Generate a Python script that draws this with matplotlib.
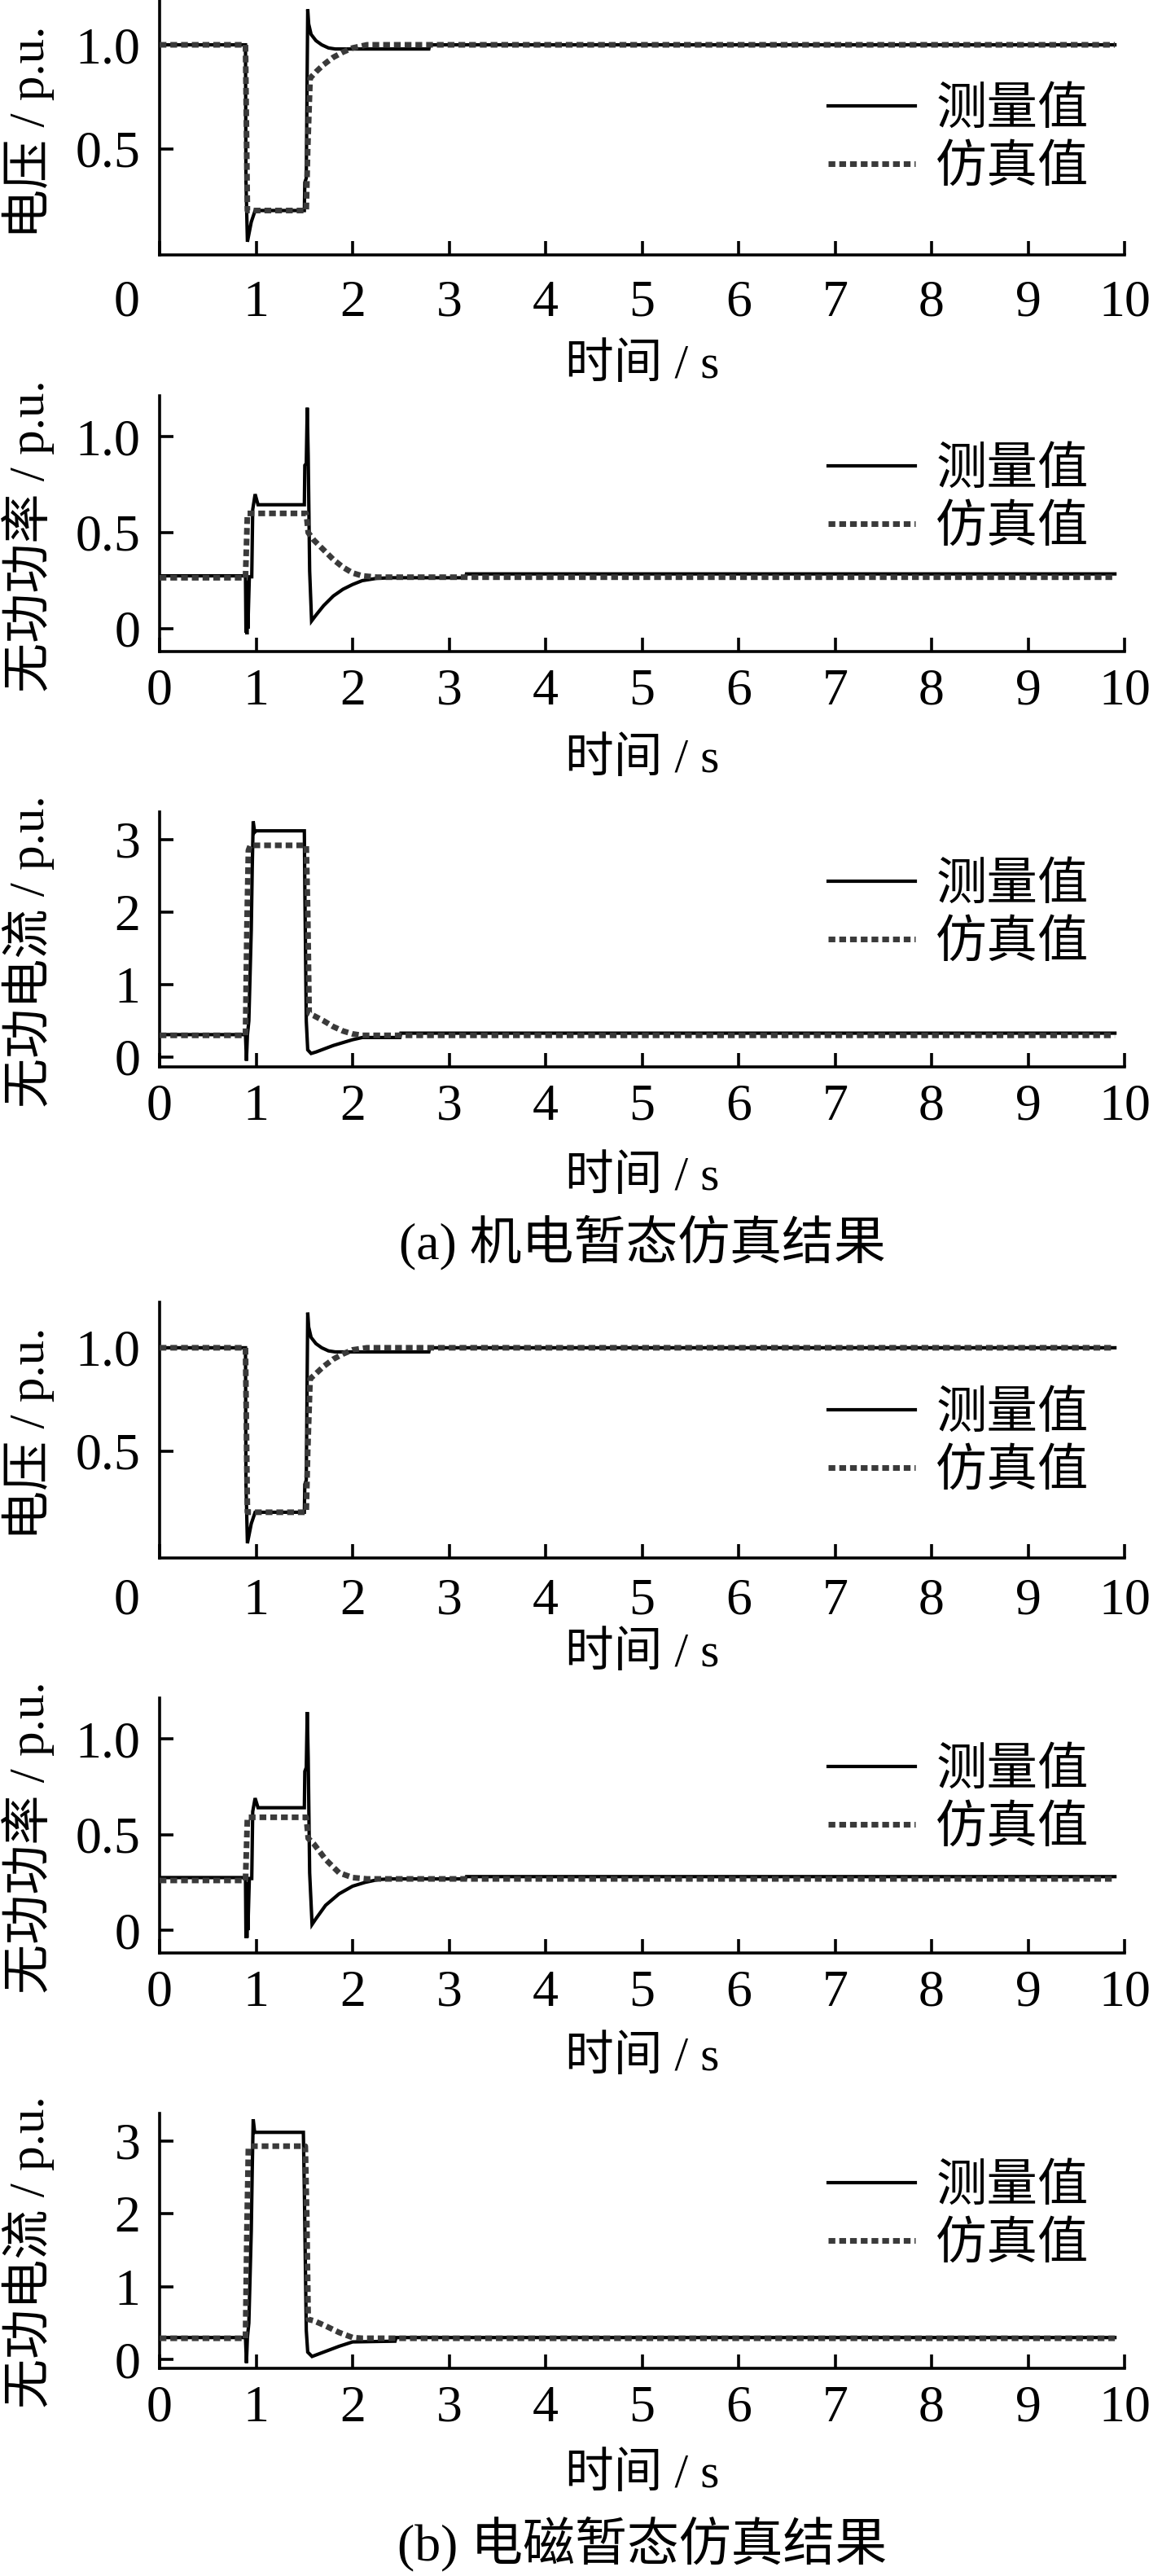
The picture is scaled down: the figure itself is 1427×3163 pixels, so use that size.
import matplotlib

matplotlib.use("Agg")
import matplotlib.pyplot as plt

plt.rcParams["font.family"] = ["Liberation Serif", "Noto Sans CJK SC"]
plt.rcParams["axes.unicode_minus"] = False

# ---- data ---------------------------------------------------------------
# voltage, measured / simulated  (a) 机电暂态  (b) 电磁暂态
T_VOLT_MEAS_A = [0, 0.89, 0.895, 0.91, 0.95, 0.99, 1.50, 1.505, 1.52, 1.535, 1.545,
                 1.57, 1.62, 1.68, 1.75, 1.82, 2.79, 2.80, 9.9]
VOLT_MEAS_A = [1.0, 1.0, 0.35, 0.055, 0.15, 0.205, 0.205, 0.34, 0.36, 1.17, 1.10,
               1.05, 1.02, 1.0, 0.985, 0.98, 0.98, 1.0, 1.0]
T_VOLT_SIM_A = [0, 0.89, 0.91, 1.52, 1.535, 1.56, 1.62, 1.70, 1.80, 1.90, 2.00, 2.15, 9.9]
VOLT_SIM_A = [1.0, 1.0, 0.205, 0.205, 0.5, 0.84, 0.87, 0.905, 0.94, 0.965, 0.985, 1.0, 1.0]

T_VOLT_MEAS_B = [0, 0.89, 0.895, 0.91, 0.95, 0.99, 1.50, 1.505, 1.52, 1.535, 1.545,
                 1.57, 1.62, 1.68, 1.75, 1.82, 2.79, 2.80, 9.9]
VOLT_MEAS_B = [1.0, 1.0, 0.35, 0.055, 0.15, 0.205, 0.205, 0.34, 0.36, 1.17, 1.10,
               1.05, 1.02, 1.0, 0.985, 0.98, 0.98, 1.0, 1.0]
T_VOLT_SIM_B = [0, 0.89, 0.91, 1.52, 1.535, 1.56, 1.62, 1.70, 1.80, 1.90, 2.00, 2.15, 9.9]
VOLT_SIM_B = [1.0, 1.0, 0.205, 0.205, 0.5, 0.85, 0.875, 0.91, 0.945, 0.97, 0.99, 1.0, 1.0]

# reactive power
T_Q_MEAS_A = [0, 0.89, 0.895, 0.90, 0.905, 0.91, 0.915, 0.93, 0.955, 0.965, 0.99, 1.02,
              1.50, 1.505, 1.52, 1.53, 1.54, 1.555, 1.575, 1.62, 1.70, 1.80, 1.90, 2.00,
              2.10, 2.25, 2.40, 3.17, 3.18, 9.9]
Q_MEAS_A = [0.275, 0.275, -0.02, 0.25, -0.03, 0.22, 0.0, 0.27, 0.27, 0.62, 0.70, 0.645,
            0.645, 0.85, 0.86, 1.15, 0.9, 0.30, 0.04, 0.07, 0.12, 0.17, 0.205, 0.23,
            0.25, 0.262, 0.265, 0.265, 0.285, 0.285]
T_Q_SIM_A = [0, 0.89, 0.91, 1.52, 1.54, 1.60, 1.70, 1.80, 1.90, 2.00, 2.10, 2.25, 9.9]
Q_SIM_A = [0.265, 0.265, 0.60, 0.60, 0.50, 0.46, 0.41, 0.36, 0.32, 0.29, 0.275, 0.268, 0.268]

T_Q_MEAS_B = [0, 0.89, 0.895, 0.90, 0.905, 0.91, 0.915, 0.93, 0.955, 0.965, 0.99, 1.02,
              1.50, 1.505, 1.52, 1.53, 1.54, 1.555, 1.58, 1.62, 1.72, 1.86, 2.00, 2.13,
              2.27, 2.40, 3.17, 3.18, 9.9]
Q_MEAS_B = [0.275, 0.275, -0.04, 0.25, -0.04, 0.22, 0.0, 0.27, 0.27, 0.62, 0.69, 0.64,
            0.64, 0.83, 0.85, 1.14, 0.9, 0.30, 0.03, 0.06, 0.13, 0.19, 0.23, 0.25,
            0.265, 0.268, 0.268, 0.28, 0.28]
T_Q_SIM_B = [0, 0.89, 0.91, 1.52, 1.54, 1.60, 1.72, 1.86, 2.00, 2.15, 9.9]
Q_SIM_B = [0.26, 0.26, 0.59, 0.59, 0.48, 0.45, 0.37, 0.30, 0.275, 0.268, 0.268]

# reactive current
T_I_MEAS_A = [0, 0.89, 0.90, 0.91, 0.925, 0.95, 0.96, 0.97, 0.985, 1.0, 1.50, 1.505,
              1.52, 1.535, 1.57, 1.62, 1.70, 1.80, 1.90, 2.00, 2.10, 2.49, 2.50, 9.9]
I_MEAS_A = [0.31, 0.31, -0.05, 0.3, 0.5, 1.75, 2.6, 3.25, 3.1, 3.12, 3.12, 2.35,
            0.5, 0.1, 0.05, 0.07, 0.11, 0.16, 0.2, 0.24, 0.27, 0.27, 0.33, 0.33]
T_I_SIM_A = [0, 0.89, 0.905, 0.92, 0.94, 1.52, 1.535, 1.55, 1.60, 1.70, 1.80, 1.90,
             2.00, 2.10, 9.9]
I_SIM_A = [0.3, 0.3, 1.8, 2.85, 2.92, 2.92, 2.0, 0.6, 0.57, 0.5, 0.42, 0.36, 0.32, 0.3, 0.3]

T_I_MEAS_B = [0, 0.89, 0.90, 0.91, 0.925, 0.95, 0.96, 0.97, 0.985, 1.0, 1.49, 1.50,
              1.52, 1.535, 1.58, 1.72, 1.86, 2.00, 2.44, 2.45, 9.9]
I_MEAS_B = [0.30, 0.30, -0.05, 0.3, 0.5, 1.76, 2.6, 3.3, 3.12, 3.12, 3.12, 2.32,
            0.4, 0.1, 0.04, 0.11, 0.18, 0.24, 0.25, 0.30, 0.30]
T_I_SIM_B = [0, 0.89, 0.905, 0.92, 0.94, 1.51, 1.525, 1.54, 1.60, 1.72, 1.86, 2.00, 2.10, 9.9]
I_SIM_B = [0.29, 0.29, 1.8, 2.9, 2.93, 2.93, 2.0, 0.55, 0.53, 0.46, 0.37, 0.30, 0.29, 0.29]

X_TICKS = list(range(0, 11))
VOLT_TICKS = [0.5, 1.0]
VOLT_TICKLABELS = ["0.5", "1.0"]
Q_TICKS = [0, 0.5, 1.0]
Q_TICKLABELS = ["0", "0.5", "1.0"]
I_TICKS = [0, 1, 2, 3]
I_TICKLABELS = ["0", "1", "2", "3"]

YLABEL_VOLT = "电压 / p.u."
YLABEL_Q = "无功功率 / p.u."
YLABEL_I = "无功电流 / p.u."
XLABEL = "时间 / s"
LEGEND_LABELS = ["测量值", "仿真值"]
CAPTIONS = ["(a) 机电暂态仿真结果", "(b) 电磁暂态仿真结果"]

# ---- layout (pixels of the 1427 x 3163 canvas) ---------------------------
W, H = 1427, 3163
LEFT, RIGHT = 196, 1381
TICK_FS = 46
LEGEND_FS = 45
LABEL_FS = 44
XLABEL_FS = 43
CAPTION_FS = 46


def fx(px):
    return px / W


def fy(py):
    return 1 - py / H


def make_panel(fig, top, bottom, ylim, yticks, yticklabels, ylabel, ylabel_y,
               xlabel_y, t_meas, meas, t_sim, sim, legend_top, xpad, shift_zero):
    ax = fig.add_axes([fx(LEFT), fy(bottom), fx(RIGHT - LEFT), (bottom - top) / H])
    ax.plot(t_meas, meas, color="black", lw=3.0, label=LEGEND_LABELS[0], zorder=3,
            solid_joinstyle="miter")
    ax.plot(t_sim, sim, color="#3a3a3a", lw=5.0, dashes=(1.2, 0.7),
            label=LEGEND_LABELS[1], zorder=4)
    ax.set_xlim(0, 10)
    ax.set_ylim(*ylim)
    ax.set_xticks(X_TICKS)
    if shift_zero:
        # the "0" under the voltage panels sits left of the axis corner
        ax.set_xticklabels([""] + [str(v) for v in X_TICKS[1:]])
        ax.annotate("0", xy=(0, 0), xycoords=("data", "axes fraction"),
                    xytext=(-29, -xpad), textcoords="offset points",
                    ha="center", va="top", fontsize=TICK_FS)
    else:
        ax.set_xticklabels([str(v) for v in X_TICKS])
    ax.set_yticks(yticks)
    ax.set_yticklabels(yticklabels)
    for side in ("top", "right"):
        ax.spines[side].set_visible(False)
    for side in ("left", "bottom"):
        ax.spines[side].set_linewidth(2.6)
    ax.tick_params(direction="in", length=12, width=2.6, labelsize=TICK_FS)
    ax.tick_params(axis="x", pad=xpad)
    ax.tick_params(axis="y", pad=17)
    ax.legend(loc="upper left", bbox_to_anchor=(0.6928, 1 - legend_top / (bottom - top)),
              frameon=False, fontsize=LEGEND_FS, handlelength=1.72, handletextpad=0.4,
              labelspacing=0.2, borderpad=0, borderaxespad=0)
    fig.text(fx(35), fy(ylabel_y), ylabel, rotation=90, ha="center", va="center",
             fontsize=LABEL_FS)
    fig.text(fx((LEFT + RIGHT) / 2), fy(xlabel_y), XLABEL, ha="center", va="center",
             fontsize=XLABEL_FS)
    return ax


def main():
    fig = plt.figure(figsize=(W / 100, H / 100), dpi=100)

    make_panel(fig, 0, 313, (-0.008, 1.215), VOLT_TICKS, VOLT_TICKLABELS, YLABEL_VOLT, 162,
               450, T_VOLT_MEAS_A, VOLT_MEAS_A, T_VOLT_SIM_A, VOLT_SIM_A, 108, 22, True)
    make_panel(fig, 486, 800, (-0.119, 1.212), Q_TICKS, Q_TICKLABELS, YLABEL_Q, 658,
               934, T_Q_MEAS_A, Q_MEAS_A, T_Q_SIM_A, Q_SIM_A, 64, 15, False)
    make_panel(fig, 997, 1310, (-0.135, 3.38), I_TICKS, I_TICKLABELS, YLABEL_I, 1168,
               1447, T_I_MEAS_A, I_MEAS_A, T_I_SIM_A, I_SIM_A, 63, 15, False)
    fig.text(fx((LEFT + RIGHT) / 2), fy(1526), CAPTIONS[0], ha="center", va="center",
             fontsize=CAPTION_FS)

    make_panel(fig, 1599, 1913, (-0.016, 1.22), VOLT_TICKS, VOLT_TICKLABELS, YLABEL_VOLT, 1760,
               2032, T_VOLT_MEAS_B, VOLT_MEAS_B, T_VOLT_SIM_B, VOLT_SIM_B, 110, 18, True)
    make_panel(fig, 2085, 2398, (-0.119, 1.213), Q_TICKS, Q_TICKLABELS, YLABEL_Q, 2256,
               2528, T_Q_MEAS_B, Q_MEAS_B, T_Q_SIM_B, Q_SIM_B, 62, 15, False)
    make_panel(fig, 2595, 2908, (-0.123, 3.38), I_TICKS, I_TICKLABELS, YLABEL_I, 2765,
               3040, T_I_MEAS_B, I_MEAS_B, T_I_SIM_B, I_SIM_B, 63, 15, False)
    fig.text(fx((LEFT + RIGHT) / 2), fy(3124), CAPTIONS[1], ha="center", va="center",
             fontsize=CAPTION_FS)

    fig.savefig("out.png", dpi=100)


if __name__ == "__main__":
    main()
